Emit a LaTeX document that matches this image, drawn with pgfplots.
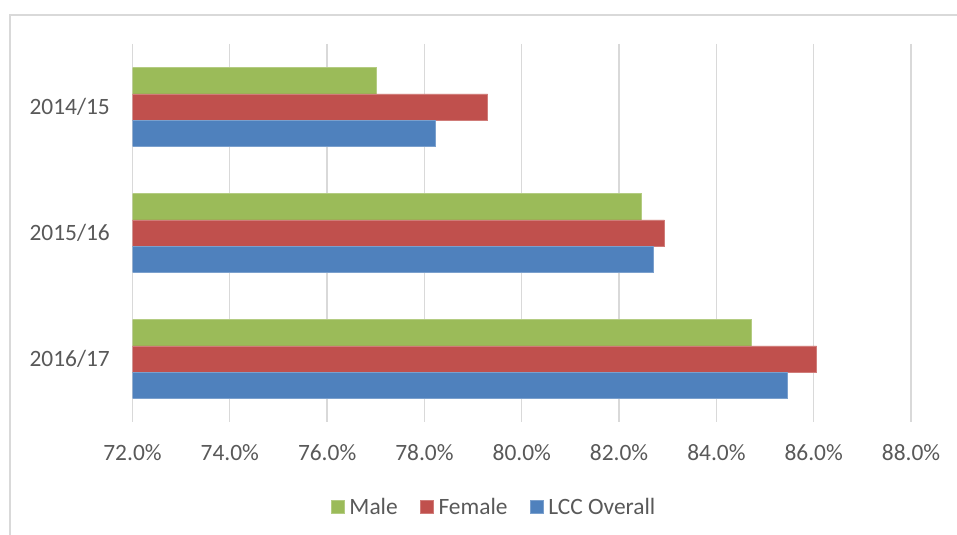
\documentclass[border=0pt]{standalone}
\usepackage{fontspec}
\setmainfont{Carlito}
\usepackage{pgfplots}
\pgfplotsset{compat=1.18}

\definecolor{maleG}{HTML}{9BBB59}
\definecolor{femR}{HTML}{C0504D}
\definecolor{lccB}{HTML}{4F81BD}
\definecolor{gridG}{HTML}{D9D9D9}
\definecolor{txt}{HTML}{595959}

\pgfplotsset{
  sq legend/.style={legend image code/.code={%
    \fill[##1] (0bp,-6.5bp) rectangle (12.5bp,6.5bp);
    \path (15bp,0bp);}},
}

\begin{document}
\begin{tikzpicture}[x=1bp,y=1bp]
\useasboundingbox (0,0) rectangle (957,535);
\fill[white] (0,0) rectangle (957,535);
% chart area frame
\draw[gridG, line width=1.5bp] (962,520) -- (10,520) -- (10,-5);
\begin{axis}[
  at={(132.5bp,113bp)}, anchor=south west,
  scale only axis, width=778.5bp, height=378bp,
  xmin=72, xmax=88, ymin=-0.5, ymax=2.5, y dir=reverse,
  xbar, bar width=0.207,
  xtick={72,74,...,88},
  xticklabels={72.0\%,74.0\%,76.0\%,78.0\%,80.0\%,82.0\%,84.0\%,86.0\%,88.0\%},
  ytick={0,1,2}, yticklabels={2014/15,2015/16,2016/17},
  xmajorgrids, ymajorgrids=false,
  major grid style={gridG, line width=1.3bp},
  axis line style={draw=none}, major tick length=0pt,
  tick label style={font=\fontsize{23.5}{28}\selectfont, text=txt, inner sep=0pt},
  xticklabel style={anchor=base, yshift=-39bp},
  yticklabel style={anchor=base east, xshift=-22.5bp, yshift=-7.3bp},
  legend style={draw=none, fill=none, at={(0.465,-0.225)}, anchor=center,
    legend columns=-1, font=\fontsize{23.5}{28}\selectfont, text=txt,
    nodes={inner sep=2.5bp},
    /tikz/every even column/.append style={column sep=20bp}},
]
\addplot[sq legend, bar shift=-0.207, fill=maleG, draw=maleG!75!white, line width=0.8bp]
  coordinates {(77.02,0) (82.45,1) (84.71,2)};
\addplot[sq legend, bar shift=0, fill=femR, draw=femR!75!white, line width=0.8bp]
  coordinates {(79.30,0) (82.93,1) (86.06,2)};
\addplot[sq legend, bar shift=0.207, fill=lccB, draw=lccB!75!white, line width=0.8bp]
  coordinates {(78.22,0) (82.71,1) (85.45,2)};
\legend{Male, Female, LCC Overall}
\end{axis}
\end{tikzpicture}
\end{document}
